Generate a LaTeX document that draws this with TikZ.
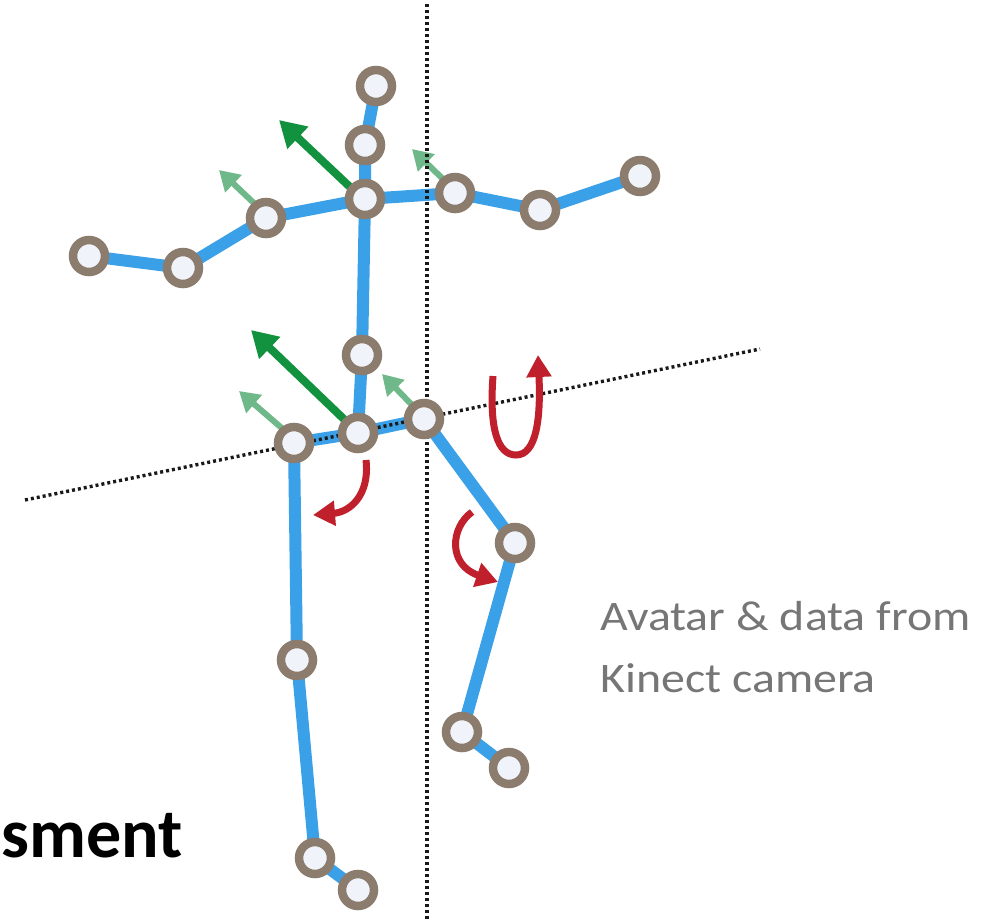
\documentclass[tikz,border=0pt]{standalone}
\usepackage{fontspec}
\setmainfont{Carlito}
\usetikzlibrary{arrows.meta}
\definecolor{bone}{RGB}{58,160,232}
\definecolor{ring}{RGB}{140,124,110}
\definecolor{jointfill}{RGB}{240,244,250}
\definecolor{darkgreen}{RGB}{18,146,62}
\definecolor{lightgreen}{RGB}{110,184,138}
\definecolor{turn}{RGB}{192,32,44}
\definecolor{caption}{RGB}{118,118,118}
\begin{document}
\begin{tikzpicture}[x=1pt,y=-1pt,
  joint/.style={circle,draw=ring,line width=8.5pt,fill=jointfill,minimum size=32pt,inner sep=0pt},
  limb/.style={draw=bone,line width=12pt},
  axis/.style={draw=black!90,line width=3.4pt,dash pattern=on 3pt off 3pt},
  bigvec/.style={draw=darkgreen,line width=8pt,-{Triangle[length=26pt,width=29pt]}},
  smallvec/.style={draw=lightgreen,line width=6pt,-{Triangle[length=20pt,width=23pt]}},
  rot/.style={draw=turn,line width=7pt,-{Triangle[length=22pt,width=24pt]}}]
\useasboundingbox (0,0) rectangle (1000,921);

% joint positions
\coordinate (head) at (376,86);
\coordinate (neck) at (365,145);
\coordinate (sps) at (365,199);
\coordinate (lsh) at (266,218);
\coordinate (lel) at (183,268);
\coordinate (lha) at (89,256);
\coordinate (rsh) at (455,193);
\coordinate (rel) at (540,210);
\coordinate (rha) at (640,176);
\coordinate (spm) at (362,355);
\coordinate (spb) at (358,433);
\coordinate (lhi) at (294,443);
\coordinate (rhi) at (424,419);
\coordinate (lkn) at (297,660);
\coordinate (lan) at (315,858);
\coordinate (lft) at (358,890);
\coordinate (rkn) at (515,543);
\coordinate (ran) at (462,732);
\coordinate (rft) at (509,768);

% bones
\draw[limb] (head) -- (neck) -- (sps) -- (spm) -- (spb);
\draw[limb,line join=round] (lha) -- (lel) -- (lsh) -- (sps) -- (rsh) -- (rel) -- (rha);
\draw[limb,line join=round] (lhi) -- (spb) -- (rhi);
\draw[limb] (lhi) -- (lkn) -- (lan) -- (lft);
\draw[limb] (rhi) -- (rkn) -- (ran) -- (rft);

% orientation vectors
\coordinate (g1) at (279,120);
\coordinate (g2) at (219,170);
\coordinate (g3) at (412,149);
\coordinate (g4) at (251,330);
\coordinate (g5) at (239,391);
\coordinate (g6) at (382,374);
\draw[bigvec] (350,187) -- (g1);
\draw[smallvec] (257,206) -- (g2);
\draw[smallvec] (445,181) -- (g3);
\draw[bigvec] (349,424) -- (g4);
\draw[smallvec] (284,430) -- (g5);
\draw[smallvec] (413,406) -- (g6);

% reference axes
\coordinate (vtop) at (427,4);
\coordinate (vbot) at (427,921);
\coordinate (hl) at (25,500);
\coordinate (hr) at (760,349);
\draw[axis] (vtop) -- (vbot);
\draw[axis] (hl) -- (hr);

% joints
\foreach \j in {head,neck,sps,lsh,lel,lha,rsh,rel,rha,spm,spb,lhi,rhi,lkn,lan,lft,rkn,ran,rft}
  \node[joint] (n\j) at (\j) {};

% rotations
\draw[rot] (366,460) .. controls (370,495) and (350,512) .. (313,515);
\draw[rot] (493,376) .. controls (489,430) and (498,455) .. (516,455)
  .. controls (536,455) and (541,420) .. (538,355);
\draw[rot] (472,512) .. controls (450,528) and (448,565) .. (498,582);

% labels
\node[anchor=base west,text=caption,font=\fontsize{42}{62}\selectfont,align=left,
  inner sep=0pt,xscale=1.14] (cap) at (600,692) {Avatar \& data from\\Kinect camera};
\node[anchor=base west,font=\bfseries\fontsize{70}{78}\selectfont,inner sep=0pt]
  (title) at (1,857) {sment};
\end{tikzpicture}
\end{document}
